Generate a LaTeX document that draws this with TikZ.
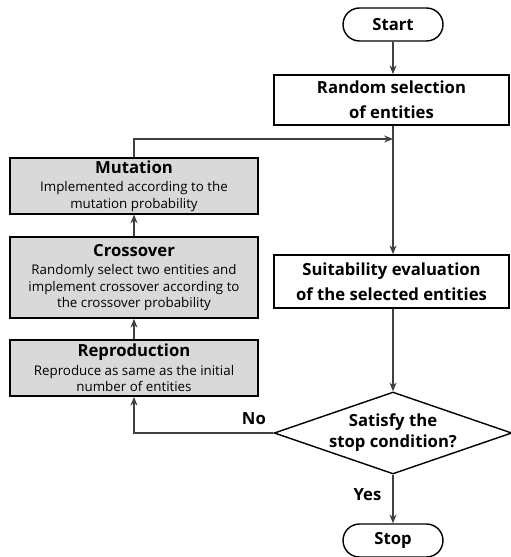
\documentclass[tikz,border=0pt]{standalone}
\usepackage{fontspec}
\setmainfont{Open Sans}
\usetikzlibrary{shapes.geometric,arrows.meta}
\tikzset{
	term/.style={draw,line width=0.8pt,rounded corners=0.33cm,minimum width=2cm,minimum height=0.66cm,font=\bfseries\fontsize{9.5}{11}\selectfont},
	proc/.style={draw,line width=1pt,minimum width=4.7cm,align=center,inner sep=0pt,font=\bfseries\fontsize{9.5}{14}\selectfont},
	op/.style={draw,line width=1pt,fill=black!15,minimum width=4.96cm,align=center,inner sep=0pt,font=\fontsize{7.6}{9.5}\selectfont},
	cond/.style={draw,diamond,line width=0.8pt,aspect=2.9,inner sep=0pt,minimum width=4.68cm,minimum height=1.6cm,align=center,font=\bfseries\fontsize{9.5}{12}\selectfont},
	link/.style={line width=0.6pt,draw=black!75,-{Stealth[length=5pt,width=4pt]}}
}
\newcommand{\optitle}[1]{{\bfseries\fontsize{9.5}{12}\selectfont #1}\\[1pt]}
\begin{document}
\begin{tikzpicture}[x=0.02cm,y=-0.02cm]
	\useasboundingbox (0,0) rectangle (510,557);
	\node[term] (start) at (393,24.5) {Start};
	\node[proc,minimum height=1cm] (rand) at (391.5,100) {Random selection\\of entities};
	\coordinate (merge) at (393,139);
	\node[proc,minimum height=1.06cm] (suit) at (391.5,281.5) {Suitability evaluation\\of the selected entities};
	\node[cond] (cond) at (393,433) {Satisfy the\\stop condition?};
	\node[term] (stop) at (393,540.5) {Stop};
	\node[op,line width=0.6pt,minimum height=1.12cm] (mut) at (134,186)
		{\optitle{Mutation}Implemented according to the\\ mutation probability};
	\node[op,minimum height=1.62cm] (cross) at (134,277.5)
		{\optitle{Crossover}Randomly select two entities and\\ implement crossover according to\\ the crossover probability};
	\node[op,minimum height=1.12cm] (repro) at (134,368)
		{\optitle{Reproduction}Reproduce as same as the initial\\ number of entities};
	% connectors
	\draw[link] (start) -- (start |- rand.north);
	\draw[link] (rand.south -| merge) -- (merge |- suit.north);
	\draw[link] (mut.north) |- (merge);
	\draw[link] (suit.south -| cond) -- (cond.north);
	\draw[link] (cond.south) -- node[pos=0.4,left=3pt,font=\bfseries\fontsize{9.5}{11}\selectfont]{Yes} (stop.north);
	\draw[link] (cond.west) -| node[pos=0.07,above=1pt,font=\bfseries\fontsize{9.5}{11}\selectfont]{No} (repro.south);
	\draw[link] (repro.north) -- (cross.south);
	\draw[link] (cross.north) -- (mut.south);
\end{tikzpicture}
\end{document}
